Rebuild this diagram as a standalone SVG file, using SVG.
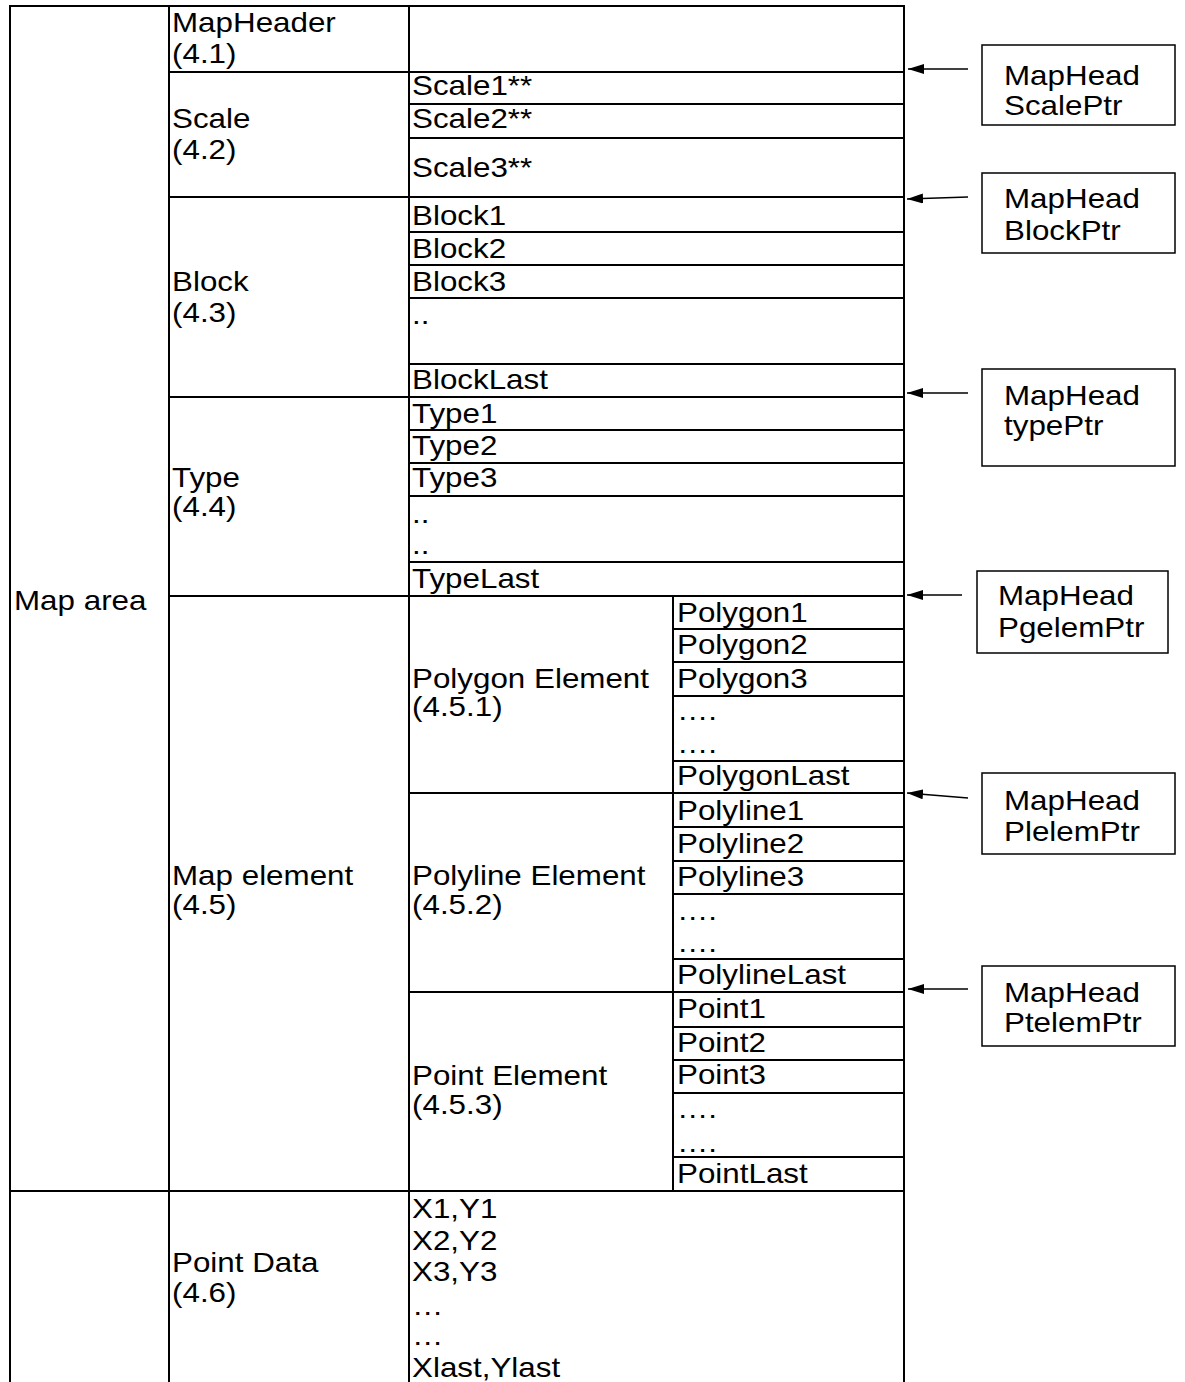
<svg xmlns="http://www.w3.org/2000/svg" width="1185" height="1382" viewBox="0 0 1185 1382">
<style>
.t{font-family:"Liberation Sans",Arial,sans-serif;font-size:28px;fill:#000}
.g{stroke:#000;stroke-width:2;fill:none}
.b{stroke:#000;stroke-width:1.5;fill:#fff}
.c{stroke:#000;stroke-width:1.5;fill:none}
</style>
<defs>
<marker id="ah" viewBox="0 0 16 10" refX="16" refY="5" markerWidth="16" markerHeight="10" markerUnits="userSpaceOnUse" orient="auto">
<path d="M16,5 L0,0 L0,10 Z" fill="#000"/>
</marker>
</defs>
<rect width="1185" height="1382" fill="#fff"/>
<g id="grid" class="g">
<path d="M10,1382 V6 H904 V1382 M169,6 V1382 M409,6 V1382 M673,596 V1191"/>
<path d="M169,72 H904 M409,104 H904 M409,138 H904 M169,197 H904"/>
<path d="M409,232 H904 M409,265 H904 M409,298 H904 M409,364 H904 M169,397 H904"/>
<path d="M409,430 H904 M409,463 H904 M409,496 H904 M409,562 H904 M169,596 H904"/>
<path d="M673,629 H904 M673,662 H904 M673,696 H904 M673,761 H904 M409,793 H904"/>
<path d="M673,827 H904 M673,861 H904 M673,894 H904 M673,959 H904 M409,992 H904"/>
<path d="M673,1027 H904 M673,1060 H904 M673,1093 H904 M673,1157 H904 M10,1191 H904"/>
</g>
<g id="map-area" class="t">
<text transform="translate(14,610) scale(1.12,1)">Map area</text>
</g>
<g id="map-header" class="t">
<text transform="translate(172,32) scale(1.12,1)">MapHeader</text>
<text transform="translate(172,63) scale(1.12,1)">(4.1)</text>
</g>
<g id="scale" class="t">
<text transform="translate(172,128) scale(1.12,1)">Scale</text>
<text transform="translate(172,159) scale(1.12,1)">(4.2)</text>
<text transform="translate(412,95) scale(1.12,1)">Scale1**</text>
<text transform="translate(412,128) scale(1.12,1)">Scale2**</text>
<text transform="translate(412,177) scale(1.12,1)">Scale3**</text>
</g>
<g id="block" class="t">
<text transform="translate(172,291) scale(1.12,1)">Block</text>
<text transform="translate(172,322) scale(1.12,1)">(4.3)</text>
<text transform="translate(412,225) scale(1.12,1)">Block1</text>
<text transform="translate(412,258) scale(1.12,1)">Block2</text>
<text transform="translate(412,291) scale(1.12,1)">Block3</text>
<text transform="translate(412,324) scale(1.12,1)">..</text>
<text transform="translate(412,389) scale(1.12,1)">BlockLast</text>
</g>
<g id="type" class="t">
<text transform="translate(172,487) scale(1.12,1)">Type</text>
<text transform="translate(172,516) scale(1.12,1)">(4.4)</text>
<text transform="translate(412,423) scale(1.12,1)">Type1</text>
<text transform="translate(412,455) scale(1.12,1)">Type2</text>
<text transform="translate(412,487) scale(1.12,1)">Type3</text>
<text transform="translate(412,523) scale(1.12,1)">..</text>
<text transform="translate(412,554) scale(1.12,1)">..</text>
<text transform="translate(412,588) scale(1.12,1)">TypeLast</text>
</g>
<g id="map-element" class="t">
<text transform="translate(172,885) scale(1.12,1)">Map element</text>
<text transform="translate(172,914) scale(1.12,1)">(4.5)</text>
</g>
<g id="polygon-element" class="t">
<text transform="translate(412,688) scale(1.12,1)">Polygon Element</text>
<text transform="translate(412,716) scale(1.12,1)">(4.5.1)</text>
<text transform="translate(677,622) scale(1.12,1)">Polygon1</text>
<text transform="translate(677,654) scale(1.12,1)">Polygon2</text>
<text transform="translate(677,688) scale(1.12,1)">Polygon3</text>
<text transform="translate(677,720) scale(1.12,1)">….</text>
<text transform="translate(677,753) scale(1.12,1)">….</text>
<text transform="translate(677,785) scale(1.12,1)">PolygonLast</text>
</g>
<g id="polyline-element" class="t">
<text transform="translate(412,885) scale(1.12,1)">Polyline Element</text>
<text transform="translate(412,914) scale(1.12,1)">(4.5.2)</text>
<text transform="translate(677,820) scale(1.12,1)">Polyline1</text>
<text transform="translate(677,853) scale(1.12,1)">Polyline2</text>
<text transform="translate(677,886) scale(1.12,1)">Polyline3</text>
<text transform="translate(677,920) scale(1.12,1)">….</text>
<text transform="translate(677,952) scale(1.12,1)">….</text>
<text transform="translate(677,984) scale(1.12,1)">PolylineLast</text>
</g>
<g id="point-element" class="t">
<text transform="translate(412,1085) scale(1.12,1)">Point Element</text>
<text transform="translate(412,1114) scale(1.12,1)">(4.5.3)</text>
<text transform="translate(677,1018) scale(1.12,1)">Point1</text>
<text transform="translate(677,1052) scale(1.12,1)">Point2</text>
<text transform="translate(677,1084) scale(1.12,1)">Point3</text>
<text transform="translate(677,1118) scale(1.12,1)">….</text>
<text transform="translate(677,1152) scale(1.12,1)">….</text>
<text transform="translate(677,1183) scale(1.12,1)">PointLast</text>
</g>
<g id="point-data" class="t">
<text transform="translate(172,1272) scale(1.12,1)">Point Data</text>
<text transform="translate(172,1302) scale(1.12,1)">(4.6)</text>
<text transform="translate(412,1218) scale(1.12,1)">X1,Y1</text>
<text transform="translate(412,1250) scale(1.12,1)">X2,Y2</text>
<text transform="translate(412,1281) scale(1.12,1)">X3,Y3</text>
<text transform="translate(412,1315) scale(1.12,1)">…</text>
<text transform="translate(412,1345) scale(1.12,1)">…</text>
<text transform="translate(412,1377) scale(1.12,1)">Xlast,Ylast</text>
</g>
<g id="ptr-scale">
<rect class="b" x="982" y="45" width="193" height="80"/>
<text class="t" transform="translate(1004,85) scale(1.12,1)">MapHead</text>
<text class="t" transform="translate(1004,115) scale(1.12,1)">ScalePtr</text>
</g>
<g id="ptr-block">
<rect class="b" x="982" y="173" width="193" height="80"/>
<text class="t" transform="translate(1004,208) scale(1.12,1)">MapHead</text>
<text class="t" transform="translate(1004,240) scale(1.12,1)">BlockPtr</text>
</g>
<g id="ptr-type">
<rect class="b" x="982" y="369" width="193" height="97"/>
<text class="t" transform="translate(1004,405) scale(1.12,1)">MapHead</text>
<text class="t" transform="translate(1004,435) scale(1.12,1)">typePtr</text>
</g>
<g id="ptr-pgelem">
<rect class="b" x="977" y="571" width="191" height="82"/>
<text class="t" transform="translate(998,605) scale(1.12,1)">MapHead</text>
<text class="t" transform="translate(998,637) scale(1.12,1)">PgelemPtr</text>
</g>
<g id="ptr-plelem">
<rect class="b" x="982" y="773" width="193" height="81"/>
<text class="t" transform="translate(1004,810) scale(1.12,1)">MapHead</text>
<text class="t" transform="translate(1004,841) scale(1.12,1)">PlelemPtr</text>
</g>
<g id="ptr-ptelem">
<rect class="b" x="982" y="966" width="193" height="80"/>
<text class="t" transform="translate(1004,1002) scale(1.12,1)">MapHead</text>
<text class="t" transform="translate(1004,1032) scale(1.12,1)">PtelemPtr</text>
</g>
<g id="connectors" class="c">
<path d="M968,69 L908,69" marker-end="url(#ah)"/>
<path d="M968,197 L907,199" marker-end="url(#ah)"/>
<path d="M968,393 L907,393" marker-end="url(#ah)"/>
<path d="M962,595 L907,595" marker-end="url(#ah)"/>
<path d="M968,798 L907,793" marker-end="url(#ah)"/>
<path d="M968,989 L908,989" marker-end="url(#ah)"/>
</g>
</svg>
